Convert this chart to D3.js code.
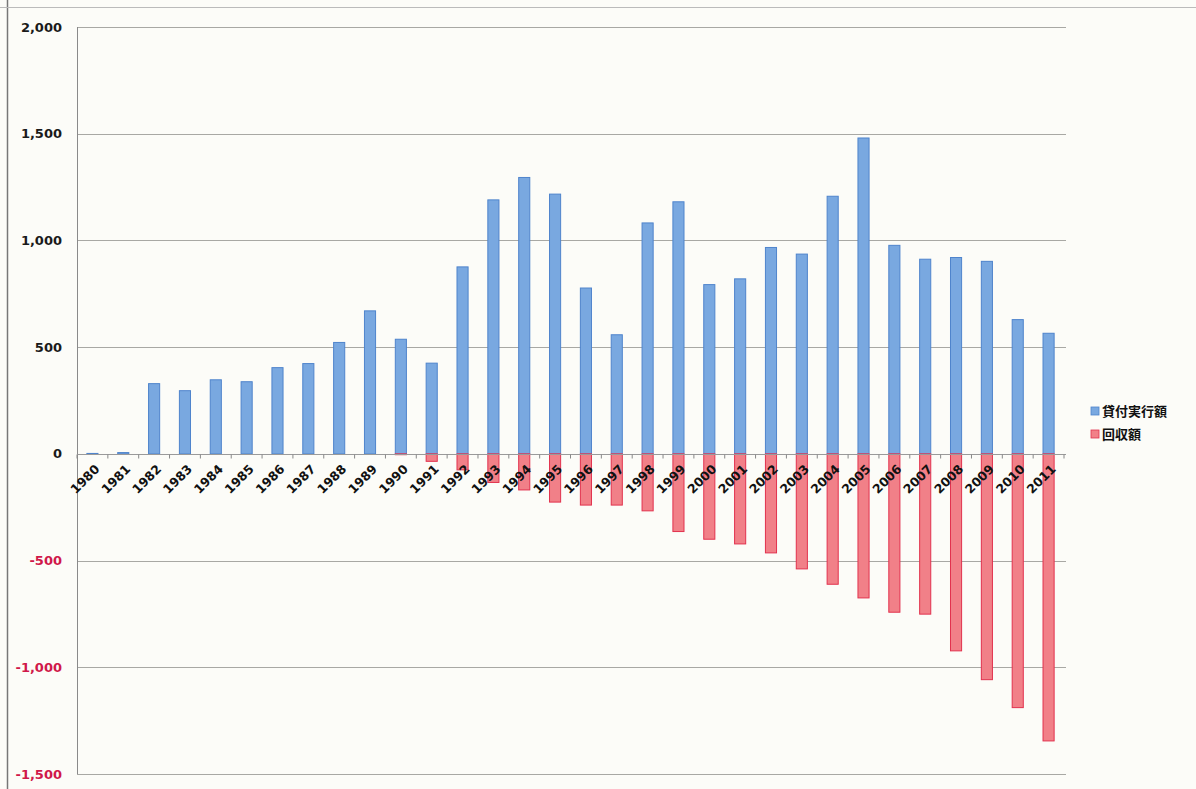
<!DOCTYPE html>
<html lang="ja">
<head>
<meta charset="UTF-8">
<title>貸付実行額と回収額</title>
<script src="https://d3js.org/d3.v7.min.js"></script>
<style>
  body { margin: 0; background: #fcfcf8; }
  svg { display: block; }
  .ylab { font-family: "DejaVu Sans", Verdana, sans-serif; font-size: 13px; font-weight: bold; }
  .xlab { font-family: "DejaVu Sans", Verdana, sans-serif; font-size: 12.5px; font-weight: bold; fill: #111; }
  .leg { font-family: "Noto Sans CJK JP", sans-serif; font-size: 13px; font-weight: bold; fill: #111; }
</style>
</head>
<body>
<div id="chart"></div>
<script>
// categories
const years = d3.range(1980, 2012).map(String);

// 貸付実行額 (loans disbursed)
const lent = [2, 6, 329, 296, 347, 338, 404, 423, 522, 670, 537, 425,
  876, 1190, 1295, 1217, 777, 558, 1082, 1181, 793, 820, 967, 936,
  1207, 1480, 977, 912, 920, 902, 629, 565];

// 回収額 (repaid)
const repaid = [0, 0, 0, 0, 0, 0, 0, 0, 0, 0, -4, -35,
  -75, -134, -169, -226, -240, -240, -267, -364, -400, -422, -464, -539,
  -611, -675, -742, -751, -923, -1058, -1189, -1345];

const yTicks = [-1500, -1000, -500, 0, 500, 1000, 1500, 2000];
const seriesNames = ['貸付実行額', '回収額'];

const W = 1196, H = 789;
const svg = d3.select('#chart').append('svg').attr('width', W).attr('height', H);

svg.append('rect').attr('width', W).attr('height', H).attr('fill', '#fcfcf8');

// outer frame (left + top edge of the scanned box)
svg.append('line').attr('x1', 7.5).attr('x2', 7.5).attr('y1', 0).attr('y2', H)
  .attr('stroke', '#777').attr('stroke-width', 1.5);
svg.append('line').attr('x1', 0).attr('x2', W).attr('y1', 7.5).attr('y2', 7.5)
  .attr('stroke', '#bbb').attr('stroke-width', 1);

const x = d3.scaleBand().domain(years).range([77, 1064]).paddingInner(0.64).paddingOuter(0.32);
const y = d3.scaleLinear().domain([-1500, 2000]).range([774, 27]);

// gridlines
svg.append('g').selectAll('line').data(yTicks).enter().append('line')
  .attr('x1', 77).attr('x2', 1066)
  .attr('y1', d => Math.round(y(d)) + 0.5).attr('y2', d => Math.round(y(d)) + 0.5)
  .attr('stroke', '#a8a8a4').attr('stroke-width', 1);

// y axis line
svg.append('line').attr('x1', 77.5).attr('x2', 77.5).attr('y1', y(2000)).attr('y2', y(-1500))
  .attr('stroke', '#8a8a8a');

// y labels (plain hyphen for negatives, as in the original)
svg.append('g').selectAll('text').data(yTicks).enter().append('text')
  .attr('class', 'ylab')
  .attr('x', 62).attr('y', d => y(d) + 4.5)
  .attr('text-anchor', 'end')
  .attr('fill', d => d < 0 ? '#d0184a' : '#1a1a1a')
  .text(d => d3.format(',')(d).replace('\u2212', '-'));

// bars
const bars = svg.append('g');
bars.selectAll('rect.lent').data(lent).enter().append('rect')
  .attr('class', 'lent')
  .attr('x', (d, i) => x(years[i]))
  .attr('width', x.bandwidth())
  .attr('y', d => y(Math.max(0, d)))
  .attr('height', d => Math.abs(y(d) - y(0)))
  .attr('fill', '#79a8e0').attr('stroke', '#4f84cc').attr('stroke-width', 1);

bars.selectAll('rect.repaid').data(repaid).enter().append('rect')
  .attr('class', 'repaid')
  .attr('x', (d, i) => x(years[i]))
  .attr('width', x.bandwidth())
  .attr('y', y(0))
  .attr('height', d => Math.abs(y(d) - y(0)))
  .attr('fill', '#f18088').attr('stroke', '#e2324e').attr('stroke-width', 1);

// zero axis + category ticks
const y0 = Math.round(y(0)) + 0.5;
const bandStart = x(years[0]) - x.step() * x.paddingOuter();
svg.append('line').attr('x1', 77).attr('x2', 1066).attr('y1', y0).attr('y2', y0)
  .attr('stroke', '#9a9a9a');
svg.append('g').selectAll('line').data(d3.range(years.length + 1)).enter().append('line')
  .attr('x1', i => bandStart + i * x.step())
  .attr('x2', i => bandStart + i * x.step())
  .attr('y1', y0).attr('y2', y0 + 4)
  .attr('stroke', '#888');

// x labels
svg.append('g').selectAll('text').data(years).enter().append('text')
  .attr('class', 'xlab')
  .attr('text-anchor', 'end')
  .attr('transform', d => `translate(${x(d) + x.bandwidth() / 2 + 8},${y(0) + 16}) rotate(-45)`)
  .text(d => d);

// legend
const legColors = ['#79a8e0', '#f18088'];
const legStroke = ['#4f84cc', '#e2324e'];
const leg = svg.append('g');
seriesNames.forEach((name, i) => {
  const ly = 411 + i * 23;
  leg.append('rect').attr('x', 1091).attr('y', ly - 4).attr('width', 8).attr('height', 8)
    .attr('fill', legColors[i]).attr('stroke', legStroke[i]).attr('stroke-width', 0.8);
  leg.append('text').attr('class', 'leg').attr('x', 1102).attr('y', ly + 5).text(name);
});
</script>
</body>
</html>
